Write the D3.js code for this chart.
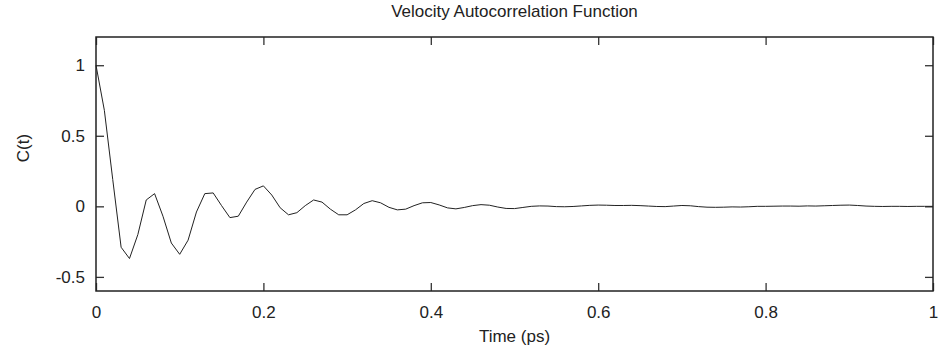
<!DOCTYPE html>
<html>
<head>
<meta charset="utf-8">
<script src="https://cdn.jsdelivr.net/npm/d3@7"></script>
<style>
  body { margin: 0; background: #fff; }
  text { font-family: "Liberation Sans", Arial, Helvetica, sans-serif; fill: #222; }
  .axis path { display: none; }
  .axis line { stroke: #333; stroke-width: 1.3; }
  .axis text { font-size: 17px; }
</style>
</head>
<body>
<div id="chart"></div>
<script>
    // -------------------------------
    // Data (dt = 0.01 ps)
    // -------------------------------
    const timeStep = 0.01;
    const vacf = [
      1.0, 0.68, 0.19, -0.29, -0.37, -0.20, 0.045, 0.09, -0.07, -0.26,
      -0.34, -0.24, -0.04, 0.09, 0.095, 0.005, -0.08, -0.07, 0.03, 0.12,
      0.145, 0.08, -0.01, -0.06, -0.045, 0.005, 0.045, 0.03, -0.02, -0.06,
      -0.06, -0.025, 0.02, 0.04, 0.025, -0.007, -0.025, -0.02, 0.005, 0.025,
      0.027, 0.01, -0.011, -0.018, -0.008, 0.005, 0.012, 0.008, -0.005, -0.015,
      -0.016, -0.008, 0.0, 0.003, 0.002, -0.002, -0.003, -0.001, 0.003, 0.007,
      0.009, 0.008, 0.006, 0.006, 0.007, 0.005, 0.002, -0.001, -0.002, 0.002,
      0.006, 0.004, -0.002, -0.006, -0.007, -0.006, -0.004, -0.005, -0.003, 0.0,
      0.0, 0.001, 0.002, 0.002, 0.001, 0.003, 0.002, 0.004, 0.006, 0.008,
      0.009, 0.006, 0.002, 0.0, -0.001, 0.0, 0.0, -0.001, 0.0, 0.0,
      0.0
    ];
    const xTicks = [0, 0.2, 0.4, 0.6, 0.8, 1];
    const yTicks = [-0.5, 0, 0.5, 1];
    const xDomain = [0, 1];
    const yDomain = [-0.6, 1.2];

    const points = vacf.map((v, i) => ({ t: i * timeStep, c: v }));

    // -------------------------------
    // Layout
    // -------------------------------
    const W = 942, H = 356;
    const margin = { top: 37, right: 9, bottom: 65, left: 96 };
    const width = W - margin.left - margin.right;
    const height = H - margin.top - margin.bottom;

    const svg = d3.select("#chart").append("svg")
        .attr("width", W)
        .attr("height", H);

    const g = svg.append("g")
        .attr("transform", `translate(${margin.left},${margin.top})`);

    const x = d3.scaleLinear().domain(xDomain).range([0, width]);
    const y = d3.scaleLinear().domain(yDomain).range([height, 0]);
    const fmt = d => String(d);

    // axes, ticks pointing inwards on all four sides
    g.append("g").attr("class", "axis")
        .attr("transform", `translate(0,${height})`)
        .call(d3.axisBottom(x).tickValues(xTicks).tickFormat(fmt).tickSize(-8).tickPadding(15));
    g.append("g").attr("class", "axis")
        .call(d3.axisTop(x).tickValues(xTicks).tickFormat("").tickSize(-8));
    g.append("g").attr("class", "axis")
        .call(d3.axisLeft(y).tickValues(yTicks).tickFormat(fmt).tickSize(-8).tickPadding(11));
    g.append("g").attr("class", "axis")
        .attr("transform", `translate(${width},0)`)
        .call(d3.axisRight(y).tickValues(yTicks).tickFormat("").tickSize(-8));

    // frame
    g.append("rect")
        .attr("width", width)
        .attr("height", height)
        .attr("fill", "none")
        .attr("stroke", "#222")
        .attr("stroke-width", 1.5);

    // curve
    g.append("path")
        .datum(points)
        .attr("fill", "none")
        .attr("stroke", "#222")
        .attr("stroke-width", 1)
        .attr("stroke-linejoin", "round")
        .attr("d", d3.line().x(d => x(d.t)).y(d => y(d.c)));

    // titles
    svg.append("text")
        .attr("x", margin.left + width / 2)
        .attr("y", 17)
        .attr("text-anchor", "middle")
        .style("font-size", "17px")
        .text("Velocity Autocorrelation Function");

    svg.append("text")
        .attr("x", margin.left + width / 2)
        .attr("y", 342)
        .attr("text-anchor", "middle")
        .style("font-size", "17px")
        .text("Time (ps)");

    svg.append("text")
        .attr("transform", "translate(29,148) rotate(-90)")
        .attr("text-anchor", "middle")
        .style("font-size", "17px")
        .text("C(t)");
</script>
</body>
</html>
